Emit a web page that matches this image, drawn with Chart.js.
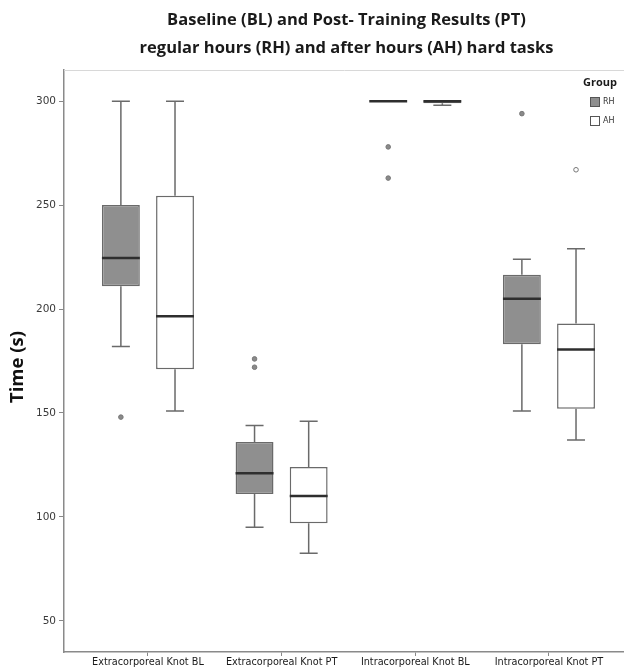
<!DOCTYPE html>
<html>
<head>
<meta charset="utf-8">
<script src="https://cdn.jsdelivr.net/npm/chart.js@4.4.0/dist/chart.umd.min.js"></script>
<style>
  html, body { margin: 0; padding: 0; background: #fff; }
  #wrap { width: 624px; height: 669px; }
</style>
</head>
<body>
<div id="wrap"><canvas id="box_chart"></canvas></div>
<script>
// box plot data
var categories = ["Extracorporeal Knot BL", "Extracorporeal Knot PT", "Intracorporeal Knot BL", "Intracorporeal Knot PT"];
var groups = ["RH", "AH"];
var yTicks = [50, 100, 150, 200, 250, 300];

var rhMin = [182, 95, 300, 151];
var rhQ1  = [211, 111, 300, 183];
var rhMed = [224.5, 121, 300, 205];
var rhQ3  = [250, 136, 300, 216.5];
var rhMax = [300, 144, 300, 224];
var rhOut = [[148], [176, 172], [278, 263], [294]];

var ahMin = [151, 82.5, 298, 137];
var ahQ1  = [171, 97, 299, 152];
var ahMed = [196.5, 110, 300, 180.5];
var ahQ3  = [254.5, 124, 300, 193];
var ahMax = [300, 146, 300, 229];
var ahOut = [[], [], [], [267]];

var stats = [
  { min: rhMin, q1: rhQ1, med: rhMed, q3: rhQ3, max: rhMax, out: rhOut },
  { min: ahMin, q1: ahQ1, med: ahMed, q3: ahQ3, max: ahMax, out: ahOut }
];

function boxData(q1, q3) {
  return categories.map(function (c, i) { return { x: i + 1, y: [q1[i], q3[i]] }; });
}

// whiskers, medians and outliers, placed with the chart's scales
var boxExtras = {
  id: "boxExtras",
  afterDatasetsDraw: function (chart) {
    var ctx = chart.ctx, ys = chart.scales.y;
    ctx.save();
    stats.forEach(function (s, d) {
      var meta = chart.getDatasetMeta(d);
      meta.data.forEach(function (bar, i) {
        var x = bar.x, w = bar.width, cap = 9;
        var yMin = ys.getPixelForValue(s.min[i]), yMax = ys.getPixelForValue(s.max[i]);
        var yQ1 = ys.getPixelForValue(s.q1[i]), yQ3 = ys.getPixelForValue(s.q3[i]);
        ctx.strokeStyle = "#6a6a6a";
        ctx.lineWidth = 1.5;
        ctx.beginPath();
        ctx.moveTo(x, yQ3); ctx.lineTo(x, yMax);
        ctx.moveTo(x - cap, yMax); ctx.lineTo(x + cap, yMax);
        ctx.moveTo(x, yQ1); ctx.lineTo(x, yMin);
        ctx.moveTo(x - cap, yMin); ctx.lineTo(x + cap, yMin);
        ctx.stroke();
        // median
        var yMed = ys.getPixelForValue(s.med[i]);
        ctx.strokeStyle = "#2e2e2e";
        ctx.lineWidth = 2.5;
        ctx.beginPath();
        ctx.moveTo(x - w / 2, yMed); ctx.lineTo(x + w / 2, yMed);
        ctx.stroke();
        // outliers
        s.out[i].forEach(function (v) {
          var yo = ys.getPixelForValue(v);
          ctx.beginPath();
          ctx.arc(x, yo, 2.3, 0, Math.PI * 2);
          ctx.fillStyle = d === 0 ? "#8a8a8a" : "#ffffff";
          ctx.fill();
          ctx.lineWidth = 1;
          ctx.strokeStyle = "#777";
          ctx.stroke();
        });
      });
    });
    ctx.restore();
  },
  afterDraw: function (chart) {
    var ctx = chart.ctx, a = chart.chartArea;
    ctx.save();
    // frame top
    ctx.strokeStyle = "#d8d8d8";
    ctx.lineWidth = 1;
    ctx.beginPath();
    ctx.moveTo(a.left, a.top + 0.5); ctx.lineTo(a.right + 2, a.top + 0.5);
    ctx.stroke();
    // title
    var cx = (a.left + a.right) / 2 + 3;
    ctx.fillStyle = "#1a1a1a";
    ctx.font = "bold 16.5px 'Open Sans'";
    ctx.textAlign = "center";
    ctx.textBaseline = "alphabetic";
    ctx.fillText("Baseline (BL) and Post- Training Results (PT)", cx, 25);
    ctx.fillText("regular hours (RH) and after hours (AH) hard tasks", cx, 53);
    // y axis title
    ctx.save();
    ctx.translate(23, 367);
    ctx.rotate(-Math.PI / 2);
    ctx.font = "bold 18.5px 'Open Sans'";
    ctx.fillStyle = "#111";
    ctx.fillText("Time (s)", 0, 0);
    ctx.restore();
    // legend
    ctx.textAlign = "left";
    ctx.textBaseline = "middle";
    ctx.fillStyle = "#1a1a1a";
    ctx.font = "bold 11px 'Open Sans'";
    ctx.fillText("Group", 583, 83);
    var fills = ["#8f8f8f", "#ffffff"];
    groups.forEach(function (g, k) {
      var yy = 97 + k * 19;
      ctx.fillStyle = fills[k];
      ctx.fillRect(590, yy, 9, 9);
      ctx.strokeStyle = "#555";
      ctx.lineWidth = 1;
      ctx.strokeRect(590.5, yy + 0.5, 9, 9);
      ctx.fillStyle = "#333";
      ctx.font = "8px 'DejaVu Sans'";
      ctx.fillText(g, 603, yy + 5);
    });
    ctx.restore();
  }
};

var ctx1 = document.getElementById("box_chart");
var myBoxChart = new Chart(ctx1, {
  type: "bar",
  data: {
    datasets: [{
      label: "RH",
      data: boxData(rhQ1, rhQ3),
      backgroundColor: "#8f8f8f",
      borderColor: "#6a6a6a",
      borderWidth: 1.5,
      borderSkipped: false
    }, {
      label: "AH",
      data: boxData(ahQ1, ahQ3),
      backgroundColor: "#ffffff",
      borderColor: "#6a6a6a",
      borderWidth: 1.5,
      borderSkipped: false
    }]
  },
  options: {
    responsive: true,
    maintainAspectRatio: false,
    animation: false,
    categoryPercentage: 0.81,
    barPercentage: 0.7,
    layout: { padding: { top: 70, right: 1, left: 0, bottom: 0 } },
    plugins: {
      legend: { display: false },
      title: { display: false },
      tooltip: { enabled: false }
    },
    scales: {
      x: {
        type: "linear",
        offset: false,
        min: 0.372,
        max: 4.554,
        afterBuildTicks: function (axis) {
          axis.ticks = categories.map(function (c, i) { return { value: i + 1 }; });
        },
        afterFit: function (axis) { axis.height = 17; },
        ticks: {
          autoSkip: false,
          maxRotation: 0,
          padding: 1,
          color: "#1a1a1a",
          font: { family: "DejaVu Sans", size: 9.7 },
          callback: function (v) { return categories[v - 1] || ""; }
        },
        grid: { drawOnChartArea: false, offset: false, tickLength: 4, color: "#888" },
        border: { color: "#8a8a8a", width: 1.5 }
      },
      y: {
        min: 35,
        max: 315,
        afterBuildTicks: function (axis) {
          axis.ticks = yTicks.map(function (v) { return { value: v }; });
        },
        afterFit: function (axis) { axis.width = 64; },
        ticks: {
          padding: 3,
          color: "#3a3a3a",
          font: { family: "DejaVu Sans", size: 10.5 }
        },
        grid: { drawOnChartArea: false, tickLength: 5, color: "#888" },
        border: { color: "#8a8a8a", width: 1.5 }
      }
    }
  },
  plugins: [boxExtras]
});
</script>
</body>
</html>
